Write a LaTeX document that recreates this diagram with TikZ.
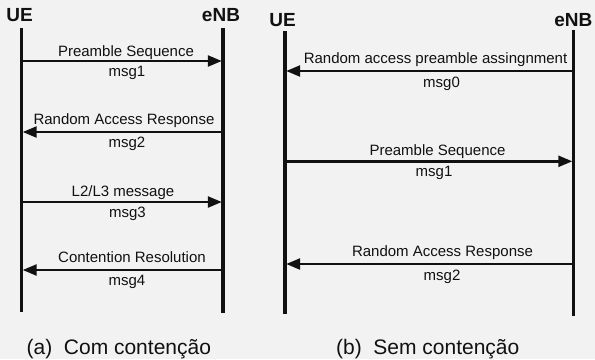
\documentclass[tikz,border=0pt]{standalone}
\usepackage{fontspec}
\setmainfont{Liberation Sans}
\usetikzlibrary{arrows.meta}
\definecolor{bgc}{RGB}{242,242,242}
\definecolor{ink}{RGB}{17,17,17}
\begin{document}
\begin{tikzpicture}[x=1bp,y=-1bp,
  life/.style={line width=3.5bp,draw=ink},
  msgarrow/.style={line width=2.4bp,draw=ink,-{Triangle[length=14bp,width=11bp]},shorten >=1.2bp},
  head/.style={anchor=base,inner sep=0,text=ink,font=\fontsize{19bp}{22bp}\selectfont\bfseries},
  lbl/.style={anchor=base,inner sep=0,text=ink,font=\fontsize{15bp}{18bp}\selectfont},
  captext/.style={anchor=base west,inner sep=0,text=ink,font=\fontsize{21bp}{25bp}\selectfont}]

% page frame and background
\fill[bgc] (0,0) rectangle (595,359);
\useasboundingbox (0,0) rectangle (595,359);

% ---------- (a) with contention ----------
\node[head] (ueA)  at (19.5,21.7) {UE};
\node[head] (enbA) at (221,21.7) {eNB};
\coordinate (ueAtop) at (21.5,27.5);  \coordinate (ueAbot) at (21.5,311.5);
\coordinate (enbAtop) at (223,27.5);  \coordinate (enbAbot) at (223,312.5);
\draw[life] (ueAtop) -- (ueAbot);
\draw[life] (enbAtop) -- (enbAbot);

% msg1
\coordinate (a1u) at (21.5,61);  \coordinate (a1e) at (223,61);
\draw[msgarrow] (a1u) -- (a1e);
\node[lbl] (a1t) at (126,56) {Preamble Sequence};
\node[lbl] (a1m) at (127,76.5) {msg1};
% msg2
\coordinate (a2u) at (21.5,132);  \coordinate (a2e) at (223,132);
\draw[msgarrow] (a2e) -- (a2u);
\node[lbl] (a2t) at (124,124) {Random Access Response};
\node[lbl] (a2m) at (127,147) {msg2};
% msg3
\coordinate (a3u) at (21.5,202);  \coordinate (a3e) at (223,202);
\draw[msgarrow] (a3u) -- (a3e);
\node[lbl] (a3t) at (123,196.7) {L2/L3 message};
\node[lbl] (a3m) at (127.5,217.3) {msg3};
% msg4
\coordinate (a4u) at (21.5,270);  \coordinate (a4e) at (223,270);
\draw[msgarrow] (a4e) -- (a4u);
\node[lbl] (a4t) at (132,262.7) {Contention Resolution};
\node[lbl] (a4m) at (127,285.3) {msg4};

\node[captext] (capA) at (26.5,354.3) {(a)\hspace{0.55em}Com contenção};

% ---------- (b) without contention ----------
\node[head] (ueB)  at (282.5,26) {UE};
\node[head] (enbB) at (573.3,26) {eNB};
\coordinate (ueBtop) at (285,31);    \coordinate (ueBbot) at (285,314);
\coordinate (enbBtop) at (573.5,30); \coordinate (enbBbot) at (573.5,316);
\draw[life] (ueBtop) -- (ueBbot);
\draw[life] (enbBtop) -- (enbBbot);

% msg0
\coordinate (b0u) at (285,71);  \coordinate (b0e) at (573.5,71);
\draw[msgarrow] (b0e) -- (b0u);
\node[lbl] (b0t) at (435.5,63.3) {Random access preamble assingnment};
\node[lbl] (b0m) at (441.5,87.5) {msg0};
% msg1
\coordinate (b1u) at (285,161.3);  \coordinate (b1e) at (573.5,161.3);
\draw[msgarrow] (b1u) -- (b1e);
\node[lbl] (b1t) at (437.5,155) {Preamble Sequence};
\node[lbl] (b1m) at (434,176.5) {msg1};
% msg2
\coordinate (b2u) at (285,264);  \coordinate (b2e) at (573.5,264);
\draw[msgarrow] (b2e) -- (b2u);
\node[lbl] (b2t) at (442.5,256) {Random Access Response};
\node[lbl] (b2m) at (442,280) {msg2};

\node[captext] (capB) at (336,354.3) {(b)\hspace{0.55em}Sem contenção};
\end{tikzpicture}
\end{document}
